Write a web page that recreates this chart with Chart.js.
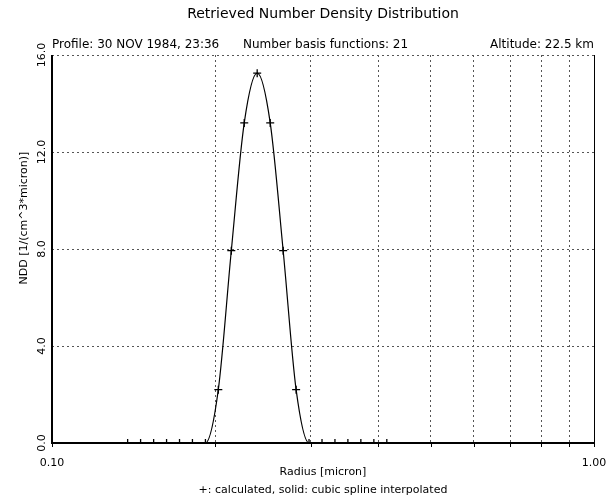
<!DOCTYPE html>
<html>
<head>
<meta charset="utf-8">
<script src="https://cdn.jsdelivr.net/npm/chart.js@4.4.1/dist/chart.umd.min.js"></script>
<style>
  html, body { margin: 0; padding: 0; background: #fff; }
  #chart { display: block; }
</style>
</head>
<body>
<canvas id="chart" width="608" height="497"></canvas>
<script>
// radius of the 21 basis functions (micron) and retrieved number density
const radius = [0.1379, 0.1457, 0.1540, 0.1627, 0.1719, 0.1816, 0.1919, 0.2027, 0.2142, 0.2263, 0.2391,
                0.2527, 0.2670, 0.2821, 0.2980, 0.3149, 0.3327, 0.3515, 0.3714, 0.3925, 0.4147];
const ndd = [0, 0, 0, 0, 0, 0, 0, 2.2, 7.93, 13.2, 15.25, 13.2, 7.93, 2.2, 0, 0, 0, 0, 0, 0, 0];

const xGrid = [0.1, 0.2, 0.3, 0.4, 0.5, 0.6, 0.7, 0.8, 0.9, 1.0];
const xLabels = ['0.10', '', '', '', '', '', '', '', '', '1.00'];
const yTicks = [0, 4, 8, 12, 16];
const yLabels = ['0.0', '4.0', '8.0', '12.0', '16.0'];

const points = radius.map((r, i) => ({ x: r, y: ndd[i] }));
const font = '"DejaVu Sans", sans-serif';

const decor = {
    id: 'decor',
    afterDraw(chart) {
        const { ctx, chartArea: a, scales: { x, y } } = chart;
        const cx = (a.left + a.right) / 2;
        ctx.save();
        ctx.strokeStyle = '#000';

        // frame: solid left, right and bottom
        ctx.lineWidth = 2;
        ctx.beginPath();
        ctx.moveTo(a.left, a.top);
        ctx.lineTo(a.left, a.bottom);
        ctx.moveTo(a.left - 1, a.bottom);
        ctx.lineTo(a.right + 1, a.bottom);
        ctx.stroke();
        ctx.lineWidth = 1;
        ctx.beginPath();
        ctx.moveTo(a.right + 0.5, a.top);
        ctx.lineTo(a.right + 0.5, a.bottom);
        ctx.stroke();

        // small ticks under the x axis
        xGrid.forEach(v => {
            const px = Math.round(x.getPixelForValue(v)) + 0.5;
            ctx.beginPath();
            ctx.moveTo(px, a.bottom);
            ctx.lineTo(px, a.bottom + 4);
            ctx.stroke();
        });

        ctx.fillStyle = '#000';
        ctx.textBaseline = 'alphabetic';

        ctx.textAlign = 'center';
        ctx.font = '14px ' + font;
        ctx.fillText('Retrieved Number Density Distribution', cx, 18);

        ctx.font = '12px ' + font;
        ctx.textAlign = 'left';
        ctx.fillText('Profile: 30 NOV 1984, 23:36', a.left, 48);
        ctx.fillText('Number basis functions: 21', 243, 48);
        ctx.textAlign = 'right';
        ctx.fillText('Altitude: 22.5 km', a.right, 48);

        ctx.font = '11px ' + font;
        ctx.textAlign = 'center';
        xGrid.forEach((v, i) => {
            if (xLabels[i]) ctx.fillText(xLabels[i], x.getPixelForValue(v), 466);
        });
        ctx.fillText('Radius [micron]', cx, 475);
        ctx.fillText('+: calculated, solid: cubic spline interpolated', cx, 493);

        // rotated y tick labels and title
        yTicks.forEach((v, i) => {
            ctx.save();
            ctx.translate(45, y.getPixelForValue(v));
            ctx.rotate(-Math.PI / 2);
            ctx.fillText(yLabels[i], 0, 0);
            ctx.restore();
        });
        ctx.save();
        ctx.translate(27, 218);
        ctx.rotate(-Math.PI / 2);
        ctx.fillText('NDD [1/(cm^3*micron)]', 0, 0);
        ctx.restore();

        ctx.restore();
    }
};

new Chart(document.getElementById('chart'), {
    type: 'scatter',
    data: {
        datasets: [{
            label: 'cubic spline interpolated',
            data: points,
            showLine: true,
            borderColor: '#000',
            borderWidth: 1.2,
            pointRadius: 0,
            cubicInterpolationMode: 'monotone',
            clip: 0
        }, {
            label: 'calculated',
            data: points,
            showLine: false,
            pointStyle: 'cross',
            pointRadius: 4,
            borderColor: '#000',
            borderWidth: 1.3,
            clip: 0
        }]
    },
    options: {
        responsive: false,
        animation: false,
        events: [],
        layout: { padding: { top: 55, right: 14, bottom: 0, left: 0 } },
        plugins: { legend: { display: false }, tooltip: { enabled: false } },
        scales: {
            x: {
                type: 'logarithmic',
                min: 0.1,
                max: 1,
                afterBuildTicks: s => { s.ticks = xGrid.map(v => ({ value: v })); },
                afterFit: s => { s.height = 54; },
                ticks: { display: false },
                grid: { color: '#555', lineWidth: 1, drawTicks: false },
                border: { display: false, dash: [2, 3] }
            },
            y: {
                min: 0,
                max: 16,
                afterBuildTicks: s => { s.ticks = yTicks.map(v => ({ value: v })); },
                afterFit: s => { s.width = 52; },
                ticks: { display: false },
                grid: { color: '#555', lineWidth: 1, drawTicks: false },
                border: { display: false, dash: [2, 3] }
            }
        }
    },
    plugins: [decor]
});
</script>
</body>
</html>
